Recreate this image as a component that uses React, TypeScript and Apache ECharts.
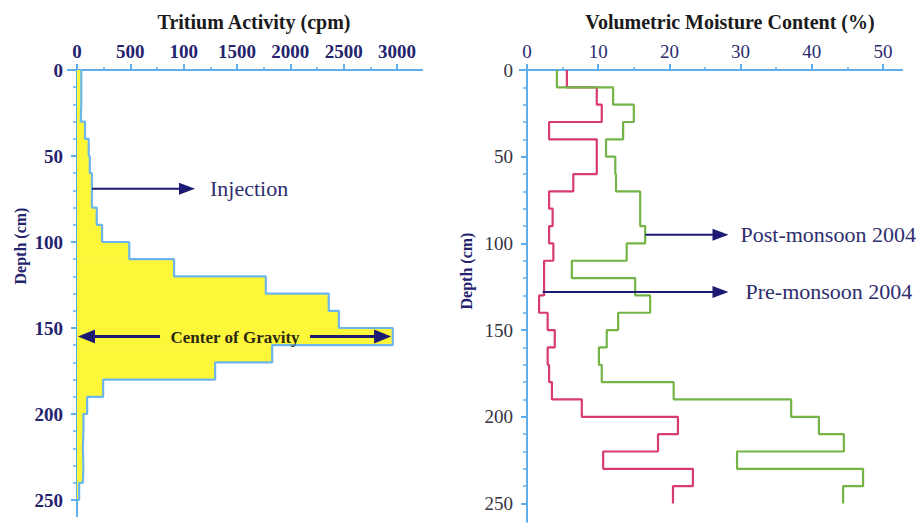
import React, { useEffect, useRef } from 'react';
import * as echarts from 'echarts';

// Depth bin boundaries (cm)
const depthBounds = [0, 10, 20, 30, 40, 50, 60, 70, 80, 90, 100, 110, 120, 130, 140, 150, 160, 170, 180, 190, 200, 210, 220, 230, 240, 250];
// Tritium activity per bin (cpm)
const tritiumCpm = [40, 40, 35, 75, 110, 120, 140, 140, 185, 235, 490, 910, 1770, 2360, 2455, 2960, 1830, 1295, 245, 95, 60, 55, 60, 55, 20];
// Volumetric moisture content per bin (%)
const preMonsoon2004 = [5.6, 9.8, 10.5, 3.1, 9.8, 9.8, 6.5, 3.1, 3.6, 3.1, 3.7, 2.4, 2.4, 1.7, 2.9, 3.9, 2.9, 3.1, 3.5, 7.7, 21.2, 18.4, 10.7, 23.3, 20.5];
const postMonsoon2004 = [4.2, 12.1, 15.0, 13.5, 11.1, 12.4, 12.5, 15.9, 15.9, 16.6, 14.0, 6.3, 15.2, 17.3, 12.8, 11.2, 10.1, 10.5, 20.6, 37.1, 41.0, 44.5, 29.5, 47.2, 44.4];

const tritiumTickLabels = ['0', '500', '100', '1500', '2000', '2500', '3000'];
const moistureTickLabels = ['0', '10', '20', '30', '40', '50'];
const depthTickLabels = ['0', '50', '100', '150', '200', '250'];

// Annotations (data coordinates)
const injectionDepth = 69;
const injectionFrom = 140;
const injectionTo = 1106;
const cogDepth = 155;
const cogTo = 2945;
const postDepth = 95;
const postFrom = 16.6;
const preDepth = 128;
const preFrom = 2.2;
const monsoonArrowTo = 28.3;

const SERIF = '"Liberation Serif", "DejaVu Serif", serif';
const AXIS_BLUE = '#5fadea';
const NAVY = '#23236e';
const ARROW = '#1c1a72';

function stepPoints(vals: number[], closeToZero: boolean): number[][] {
  const pts: number[][] = [];
  vals.forEach((v, i) => {
    pts.push([v, depthBounds[i]]);
    pts.push([v, depthBounds[i + 1]]);
  });
  if (closeToZero) pts.push([0, depthBounds[vals.length]]);
  return pts;
}

function arrowHead(tipX: number, y: number, dir: number, len = 16, half = 6) {
  return {
    type: 'polygon',
    shape: { points: [[tipX, y], [tipX - dir * len, y - half], [tipX - dir * len, y + half]] },
    style: { fill: ARROW },
    z: 20,
  };
}

function text(t: string, x: number, y: number, font: string, fill: string, align = 'center', rotation = 0) {
  return {
    type: 'text',
    x,
    y,
    rotation,
    z: 20,
    style: {
      text: t,
      x: 0,
      y: 0,
      font,
      fill,
      textAlign: align,
      align,
      textVerticalAlign: 'middle',
      verticalAlign: 'middle',
    },
  };
}

function hline(x1: number, x2: number, y: number, color: string, width: number) {
  return { type: 'line', shape: { x1, y1: y, x2, y2: y }, style: { stroke: color, lineWidth: width }, z: 20 };
}
function vline(x: number, y1: number, y2: number, color: string, width: number) {
  return { type: 'line', shape: { x1: x, y1, x2: x, y2 }, style: { stroke: color, lineWidth: width }, z: 20 };
}

export default function App() {
  const ref = useRef<HTMLDivElement>(null);

  useEffect(() => {
    if (!ref.current) return;
    const chart = echarts.init(ref.current, undefined, { renderer: 'svg' });

    const commonY = (gridIndex: number, labelStyle: any) => ({
      type: 'value',
      gridIndex,
      inverse: true,
      min: 0,
      max: 250,
      interval: 50,
      axisLine: { show: true, onZero: false, lineStyle: { color: AXIS_BLUE, width: 2 } },
      axisTick: { show: true, length: 6, lineStyle: { color: AXIS_BLUE, width: 2 } },
      minorTick: { show: true, splitNumber: 5, length: 4, lineStyle: { color: AXIS_BLUE, width: 1.5 } },
      splitLine: { show: false },
      axisLabel: {
        margin: 14,
        fontFamily: SERIF,
        ...labelStyle,
        formatter: (v: number) => depthTickLabels[Math.round(v / 50)] ?? '',
      },
    });

    const option: any = {
      animation: false,
      backgroundColor: '#ffffff',
      grid: [
        { left: 77, top: 70, width: 320, height: 430, containLabel: false },
        { left: 527, top: 70, width: 356, height: 433.5, containLabel: false },
      ],
      xAxis: [
        {
          type: 'value',
          gridIndex: 0,
          position: 'top',
          min: 0,
          max: 3000,
          interval: 500,
          axisLine: { show: true, onZero: false, lineStyle: { color: AXIS_BLUE, width: 2 } },
          axisTick: { show: true, length: 6, lineStyle: { color: AXIS_BLUE, width: 2 } },
          minorTick: { show: true, splitNumber: 2, length: 3, lineStyle: { color: AXIS_BLUE, width: 1.5 } },
          splitLine: { show: false },
          axisLabel: {
            margin: 9,
            fontFamily: SERIF,
            fontWeight: 'bold',
            fontSize: 19,
            color: NAVY,
            formatter: (v: number) => tritiumTickLabels[Math.round(v / 500)] ?? '',
          },
        },
        {
          type: 'value',
          gridIndex: 1,
          position: 'top',
          min: 0,
          max: 50,
          interval: 10,
          axisLine: { show: true, onZero: false, lineStyle: { color: AXIS_BLUE, width: 2 } },
          axisTick: { show: true, length: 6, lineStyle: { color: AXIS_BLUE, width: 2 } },
          minorTick: { show: true, splitNumber: 2, length: 3, lineStyle: { color: AXIS_BLUE, width: 1.5 } },
          splitLine: { show: false },
          axisLabel: {
            margin: 9,
            fontFamily: SERIF,
            fontSize: 19,
            color: '#2b2b72',
            formatter: (v: number) => moistureTickLabels[Math.round(v / 10)] ?? '',
          },
        },
      ],
      yAxis: [
        commonY(0, { fontWeight: 'bold', fontSize: 19, color: NAVY }),
        commonY(1, { fontSize: 19, color: '#34343f' }),
      ],
      series: [
        {
          type: 'custom',
          xAxisIndex: 0,
          yAxisIndex: 0,
          silent: true,
          z: 1,
          data: tritiumCpm.map((v, i) => [depthBounds[i], depthBounds[i + 1], v]),
          encode: { x: 2, y: [0, 1] },
          renderItem: (params: any, api: any) => {
            const p0 = api.coord([0, api.value(0)]);
            const p1 = api.coord([api.value(2), api.value(1)]);
            return {
              type: 'rect',
              shape: { x: p0[0], y: p0[1], width: p1[0] - p0[0], height: p1[1] - p0[1] + 0.6 },
              style: { fill: '#fdf73a' },
            };
          },
        },
        {
          type: 'line',
          name: 'Tritium',
          xAxisIndex: 0,
          yAxisIndex: 0,
          data: stepPoints(tritiumCpm, true),
          showSymbol: false,
          symbol: 'none',
          z: 3,
          lineStyle: { color: '#6cb6ea', width: 2.2 },
        },
        {
          type: 'line',
          name: 'Pre-monsoon 2004',
          xAxisIndex: 1,
          yAxisIndex: 1,
          data: stepPoints(preMonsoon2004, false),
          showSymbol: false,
          symbol: 'none',
          z: 3,
          lineStyle: { color: '#d93a6f', width: 2.2 },
        },
        {
          type: 'line',
          name: 'Post-monsoon 2004',
          xAxisIndex: 1,
          yAxisIndex: 1,
          data: stepPoints(postMonsoon2004, false),
          showSymbol: false,
          symbol: 'none',
          z: 3,
          lineStyle: { color: '#74b446', width: 2.2 },
        },
      ],
    };

    chart.setOption(option);

    const P = (g: number, x: number, y: number) => chart.convertToPixel({ gridIndex: g } as any, [x, y]) as number[];

    const L0 = P(0, 0, 0);
    const L3000 = P(0, 3000, 0);
    const L250 = P(0, 0, 250);
    const R0 = P(1, 0, 0);
    const R50 = P(1, 50, 0);
    const R250 = P(1, 0, 250);

    const inj0 = P(0, injectionFrom, injectionDepth);
    const inj1 = P(0, injectionTo, injectionDepth);
    const cog0 = P(0, 0, cogDepth);
    const cog1 = P(0, cogTo, cogDepth);
    const post0 = P(1, postFrom, postDepth);
    const post1 = P(1, monsoonArrowTo, postDepth);
    const pre0 = P(1, preFrom, preDepth);
    const pre1 = P(1, monsoonArrowTo, preDepth);

    const cogMid = (cog0[0] + cog1[0]) / 2 + 1;

    const graphic: any[] = [
      // axis line extensions
      hline(L0[0] - 10, L0[0], L0[1], AXIS_BLUE, 2),
      hline(L3000[0], L3000[0] + 26, L3000[1], AXIS_BLUE, 2),
      vline(L250[0], L250[1], L250[1] + 17, AXIS_BLUE, 2),
      hline(R0[0] - 8, R0[0], R0[1], AXIS_BLUE, 2),
      hline(R50[0], R50[0] + 20, R50[1], AXIS_BLUE, 2),
      vline(R250[0], R250[1], R250[1] + 19, AXIS_BLUE, 2),
      // titles
      text('Tritium Activity (cpm)', 254, 22, `bold 20px ${SERIF}`, '#1a1a1a'),
      text('Volumetric Moisture Content (%)', 730, 22, `bold 20px ${SERIF}`, '#1a1a1a'),
      // axis names
      text('Depth (cm)', 20, 246, `bold 16px ${SERIF}`, NAVY, 'center', Math.PI / 2),
      text('Depth (cm)', 466, 271, `bold 16px ${SERIF}`, NAVY, 'center', Math.PI / 2),
      // injection arrow
      hline(inj0[0], inj1[0] - 12, inj0[1], ARROW, 2),
      arrowHead(inj1[0], inj1[1], 1),
      text('Injection', inj1[0] + 15, inj1[1], `22px ${SERIF}`, '#2e2e6e', 'left'),
      // centre of gravity double arrow
      hline(cog0[0] + 10, cogMid - 75, cog0[1], ARROW, 3),
      hline(cogMid + 75, cog1[0] - 10, cog0[1], ARROW, 3),
      arrowHead(cog0[0] + 1, cog0[1], -1, 17, 7),
      arrowHead(cog1[0], cog1[1], 1, 17, 7),
      text('Center of Gravity', cogMid, cog0[1] + 1, `bold 17px ${SERIF}`, '#2c2912'),
      // monsoon arrows
      hline(post0[0], post1[0] - 12, post0[1], ARROW, 2),
      arrowHead(post1[0], post1[1], 1),
      text('Post-monsoon 2004', post1[0] + 12, post1[1], `22px ${SERIF}`, '#2e2e6e', 'left'),
      hline(pre0[0], pre1[0] - 12, pre0[1], ARROW, 2),
      arrowHead(pre1[0], pre1[1], 1),
      text('Pre-monsoon 2004', pre1[0] + 17, pre1[1], `22px ${SERIF}`, '#2e2e6e', 'left'),
    ];

    chart.setOption({ graphic });

    return () => {
      chart.dispose();
    };
  }, []);

  return (
    <div
      ref={ref}
      style={{ position: 'fixed', left: 0, top: 0, width: 922, height: 526, background: '#fff' }}
    />
  );
}
